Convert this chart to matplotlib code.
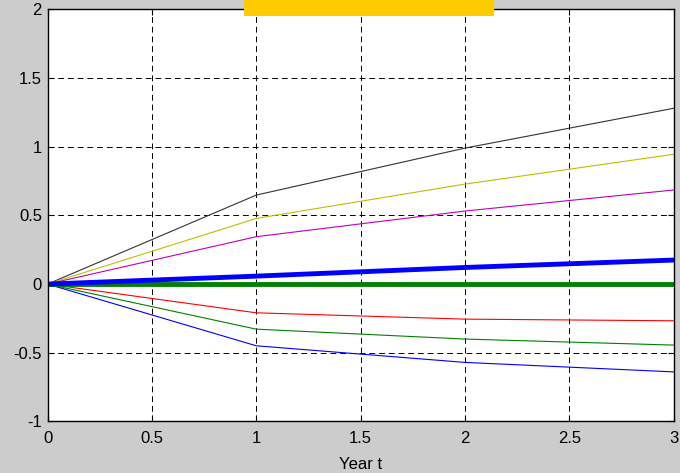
import matplotlib
matplotlib.use("Agg")
import matplotlib.pyplot as plt
from matplotlib.patches import Rectangle

years = [0, 1, 2, 3]

# thin lines
black_vals = [0, 0.648, 0.99, 1.28]
yellow_vals = [0, 0.478, 0.728, 0.945]
magenta_vals = [0, 0.345, 0.532, 0.685]
red_vals = [0, -0.209, -0.255, -0.267]
green_vals = [0, -0.328, -0.40, -0.444]
blue_vals = [0, -0.449, -0.57, -0.639]

# thick lines
blue_thick_vals = [0, 0.058, 0.121, 0.175]
green_thick_vals = [0, 0, 0, 0]

plt.rcParams["font.family"] = ["Liberation Sans", "DejaVu Sans"]

fig = plt.figure(figsize=(6.8, 4.73), dpi=100, facecolor="#cccccc")
ax = fig.add_axes([0.0699, 0.1089, 0.921, 0.8714])
ax.set_facecolor("white")

ax.plot(years, black_vals, color="#333333", lw=0.8)
ax.plot(years, yellow_vals, color=(0.75, 0.75, 0), lw=0.8)
ax.plot(years, magenta_vals, color=(0.75, 0, 0.75), lw=0.8)
ax.plot(years, red_vals, color="red", lw=0.8)
ax.plot(years, green_vals, color=(0, 0.5, 0), lw=0.8)
ax.plot(years, blue_vals, color="blue", lw=0.8)
ax.plot(years, green_thick_vals, color=(0, 0.5, 0), lw=3.5)
ax.plot(years, blue_thick_vals, color="blue", lw=3.5)

ax.set_xlim(0, 3)
ax.set_ylim(-1, 2)
ax.set_xticks([0, 0.5, 1, 1.5, 2, 2.5, 3])
ax.set_xticklabels(["0", "0.5", "1", "1.5", "2", "2.5", "3"])
ax.set_yticks([-1, -0.5, 0, 0.5, 1, 1.5, 2])
ax.set_yticklabels(["-1", "-0.5", "0", "0.5", "1", "1.5", "2"])
ax.grid(True, color="black", linestyle=(0, (6, 4)), linewidth=0.7)
ax.tick_params(direction="in", length=4, top=True, right=True, labelsize=12)
ax.tick_params(axis="x", pad=7)
ax.tick_params(axis="y", pad=4)
for sp in ax.spines.values():
    sp.set_linewidth(1.0)
ax.set_xlabel("Year t", fontsize=12, labelpad=8)

fig.patches.append(Rectangle((0.359, 0.966), 0.368, 0.04, transform=fig.transFigure,
                             facecolor="#ffcc00", edgecolor="none", zorder=10))

fig.savefig("out.png", dpi=100, facecolor=fig.get_facecolor())
